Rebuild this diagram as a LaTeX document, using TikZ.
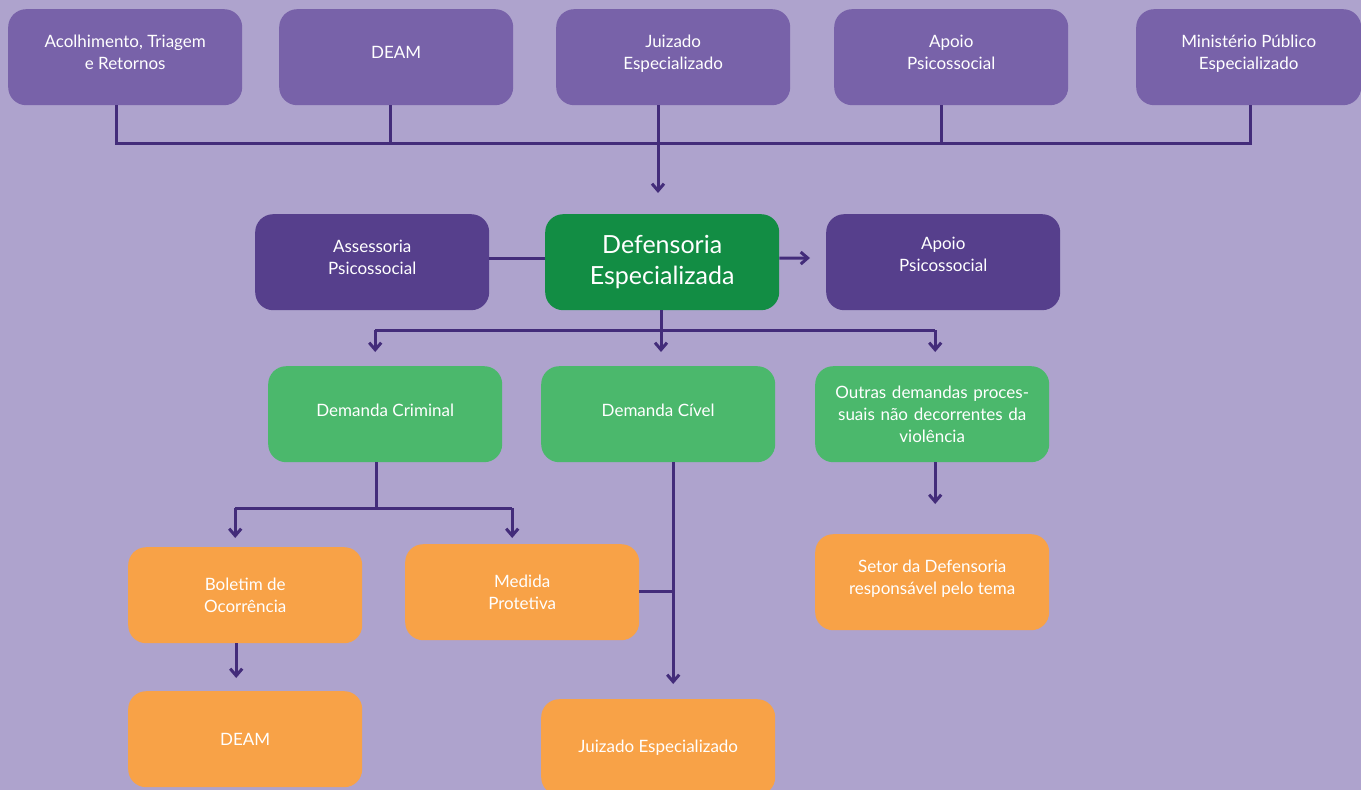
\documentclass[tikz,border=0pt]{standalone}
\usepackage{fontspec}
\setmainfont{Lato}
\usetikzlibrary{arrows.meta,calc}
\definecolor{bgc}{HTML}{AEA3CD}
\definecolor{topc}{HTML}{7862A9}
\definecolor{darkc}{HTML}{563F8C}
\definecolor{greend}{HTML}{128D44}
\definecolor{greenl}{HTML}{4BB86C}
\definecolor{orangec}{HTML}{F8A247}
\definecolor{linec}{HTML}{432C7A}
\tikzset{
  box/.style={rounded corners=18pt, minimum width=234pt, minimum height=96pt, inner sep=2pt,
    text=white, align=center, font=\fontsize{17}{22}\selectfont, anchor=north west},
  topbox/.style={box, fill=topc},
  darkbox/.style={box, fill=darkc},
  gdbox/.style={box, fill=greend, font=\fontsize{25}{31}\selectfont},
  glbox/.style={box, fill=greenl},
  obox/.style={box, fill=orangec},
  conn/.style={draw=linec, line width=3pt},
  arr/.style={conn, -{Straight Barb[length=7pt,width=12pt]}},
}
\begin{document}
\begin{tikzpicture}[x=1pt,y=-1pt]
\fill[bgc] (0,0) rectangle (1361,790);
\useasboundingbox (0,0) rectangle (1361,790);
% top row
\node[topbox] (b1) at (8,9) {Acolhimento, Triagem\\e Retornos\\[-13pt]};
\node[topbox] (b2) at (279,9) {DEAM\\[-13pt]};
\node[topbox] (b3) at (556,9) {Juizado\\Especializado\\[-13pt]};
\node[topbox] (b4) at (834,9) {Apoio\\Psicossocial\\[-13pt]};
\node[topbox, minimum width=225pt] (b5) at (1136,9) {Ministério Público\\Especializado\\[-13pt]};
% middle row
\node[darkbox] (ass) at (255,214) {Assessoria\\Psicossocial\\[-13pt]};
\node[gdbox] (def) at (545,214) {Defensoria\\Especializada};
\node[darkbox] (apo) at (826,214) {Apoio\\Psicossocial\\[-7pt]};
% third row
\node[glbox] (crim) at (268,366) {Demanda Criminal\\[-14pt]};
\node[glbox] (civ) at (541,366) {Demanda Cível\\[-14pt]};
\node[glbox, text width=226pt] (out) at (815,366) {Outras demandas proces-\\suais não decorrentes da\\violência};
% fourth row
\node[obox] (bol) at (128,547) {Boletim de\\Ocorrência};
\node[obox] (med) at (405,544) {Medida\\Protetiva};
\node[obox] (set) at (815,534) {Setor da Defensoria\\responsável pelo tema\\[-13pt]};
% bottom row
\node[obox] (deam2) at (128,691) {DEAM};
\node[obox] (jui) at (541,699) {Juizado Especializado};
% top connectors
\coordinate (jt) at (658,143);
\draw[conn] ([xshift=-9pt]b1.south) |- ([xshift=2pt]b5.south |- jt) -- ([xshift=2pt]b5.south);
\draw[conn] ([xshift=-6pt]b2.south) -- ([xshift=-6pt]b2.south |- jt);
\draw[conn] ([xshift=-10pt]b4.south) -- ([xshift=-10pt]b4.south |- jt);
\draw[conn] (b3.south -| jt) -- (jt);
\draw[arr] (jt) -- ([yshift=21pt]def.north -| jt);
% middle connectors
\draw[conn] ([yshift=4pt]ass.east) -- ([yshift=4pt]def.west);
\coordinate (ar) at (810,258);
\draw[arr] ([yshift=4pt]def.east) -- (ar);
\coordinate (h1) at (661,330);
\draw[conn] (def.south -| h1) -- (h1);
\draw[conn] ([xshift=-10pt]crim.north |- h1) -- ([xshift=3pt]out.north |- h1);
\draw[arr] ([xshift=-10pt]crim.north |- h1) -- ([xshift=-10pt,yshift=14pt]crim.north);
\draw[arr] (h1) -- ([yshift=14pt]civ.north -| h1);
\draw[arr] ([xshift=3pt]out.north |- h1) -- ([xshift=3pt,yshift=14pt]out.north);
% criminal branch
\coordinate (h2) at (376,508);
\draw[conn] (crim.south -| h2) -- (h2);
\draw[conn] ([xshift=-10pt]bol.north |- h2) -- ([xshift=-10pt]med.north |- h2);
\draw[arr] ([xshift=-10pt]bol.north |- h2) -- ([xshift=-10pt,yshift=9pt]bol.north);
\draw[arr] ([xshift=-10pt]med.north |- h2) -- ([xshift=-10pt,yshift=6pt]med.north);
\draw[arr] ([xshift=-9pt]bol.south) -- ([xshift=-9pt,yshift=13pt]deam2.north);
% civel branch
\draw[arr] ([xshift=15pt]civ.south) -- ([xshift=15pt,yshift=15pt]jui.north -| civ.south);
\draw[conn] ([yshift=1pt]med.east) -- ([yshift=1pt]med.east -| {$(civ.south)+(15,0)$});
% outras branch
\draw[arr] ([xshift=3pt]out.south) -- ([xshift=3pt,yshift=30pt]set.north);
\end{tikzpicture}
\end{document}
